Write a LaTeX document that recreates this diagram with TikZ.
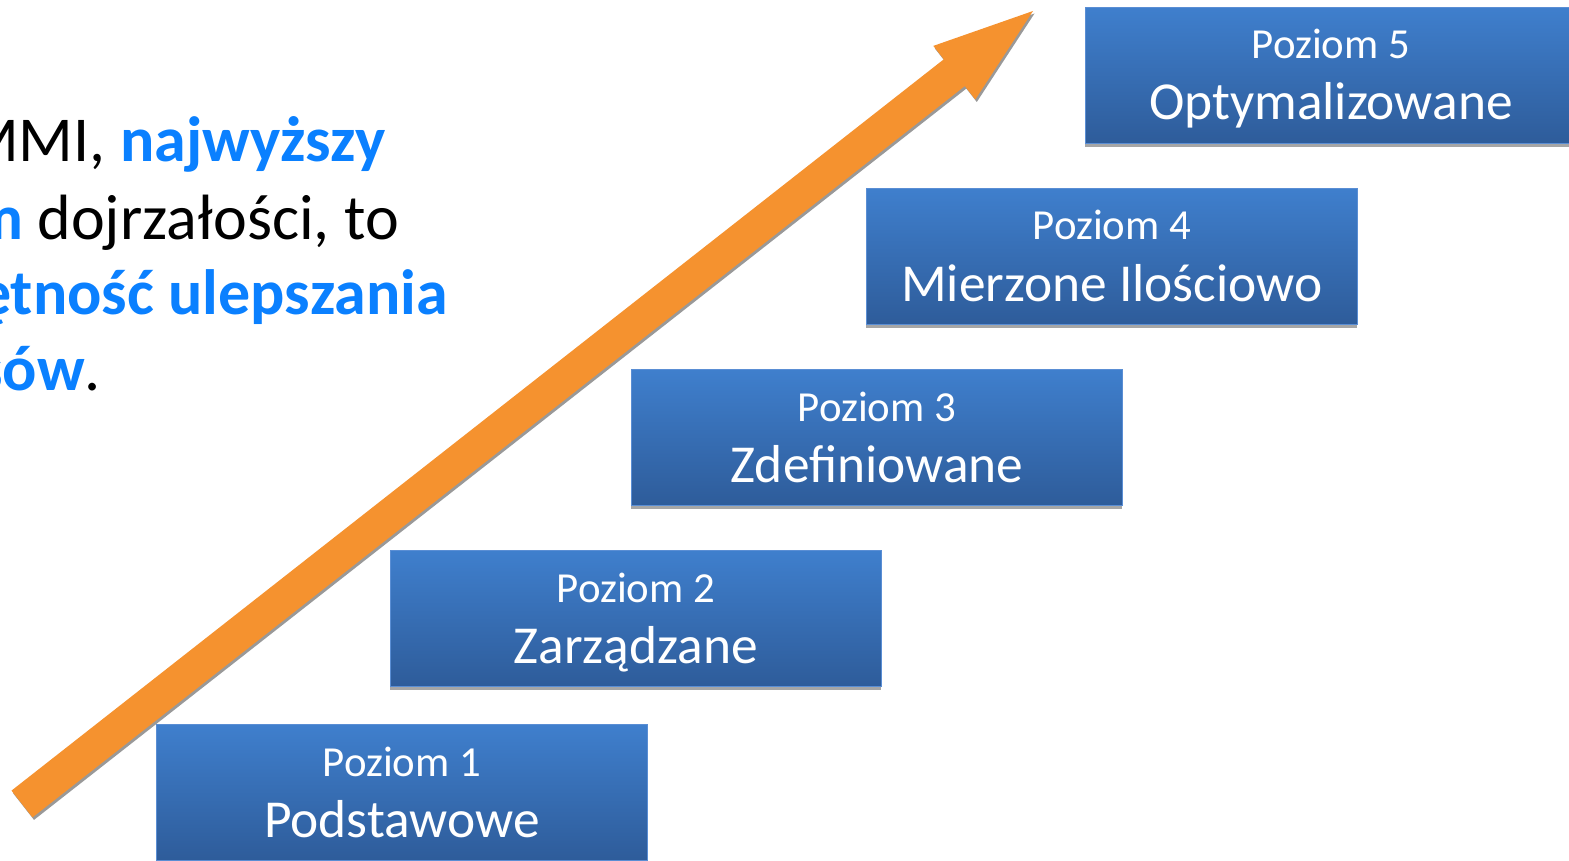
\documentclass[tikz,border=0pt]{standalone}
\usepackage{fontspec}
\setmainfont{Carlito}
\usetikzlibrary{calc,positioning,shadows}
\definecolor{LvlTop}{HTML}{3F7FCD}
\definecolor{LvlBot}{HTML}{2E5C9A}
\definecolor{LvlEdge}{HTML}{5A8ED4}
\definecolor{ArrOrange}{HTML}{F5922F}
\definecolor{TxtBlue}{HTML}{0A80FF}

\begin{document}
\begin{tikzpicture}[x=1pt,y=-1pt,
      lvl/.style={draw=LvlEdge,line width=0.8pt,top color=LvlTop,bottom color=LvlBot,minimum width=491pt,minimum height=136pt,anchor=north west,inner sep=0pt,
        drop shadow={shadow xshift=0pt,shadow yshift=-3.5pt,fill=gray!70,opacity=1}},
      num/.style={anchor=base,text=white,inner sep=0pt,font=\fontsize{42.8pt}{46pt}\selectfont},
      nm/.style={anchor=base,text=white,inner sep=0pt,font=\fontsize{53.4pt}{58pt}\selectfont},
      ln/.style={anchor=base east,inner sep=0pt,font=\fontsize{64pt}{70pt}\selectfont}]
      \useasboundingbox (0,0) rectangle (1569,861);
      \clip (0,0) rectangle (1569,861);
      % rising arrow
      \path[fill=ArrOrange,drop shadow={shadow xshift=1.5pt,shadow yshift=-2.5pt,fill=gray!80,opacity=1}]
        (11.5,790.6) -- (943.8,59.3) -- (933.3,45.9) -- (1033,11) -- (975.3,99.5) -- (964.8,86.1) -- (32.5,817.4) -- cycle;
      % levels
      \foreach \i/\x/\y/\name in {1/156/724/Podstawowe,2/390/550/Zarządzane,3/631/369/Zdefiniowane,4/866/188/Mierzone Ilościowo,5/1085/7/Optymalizowane}{
        \node[lvl] (p\i) at (\x,\y) {};
        \node[num] (n\i) at ($(p\i.north)+(0,52)$) {Poziom \i};
        \node[nm] (t\i) at ($(p\i.north)+(0,113)$) {\name};
      }
      % text on the left
      \node[ln] (l1) at (386,162) {MMI, \textcolor{TxtBlue}{\bfseries najwyższy}};
      \node[ln] (l2) at (399,240) {\textcolor{TxtBlue}{\bfseries m} dojrzałości, to};
      \node[ln] (l3) at (448,314) {\textcolor{TxtBlue}{\bfseries ętność ulepszania}};
      \node[ln] (l4) at (101,390) {\textcolor{TxtBlue}{\bfseries sów}.};
    \end{tikzpicture}
\end{document}
